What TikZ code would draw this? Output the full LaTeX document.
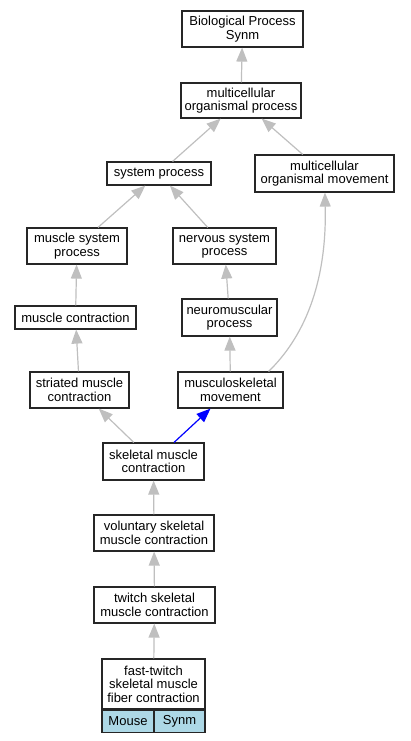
\documentclass[tikz,border=0pt]{standalone}
\usepackage{fontspec}
\setmainfont{Liberation Sans}
\usetikzlibrary{arrows.meta}
\definecolor{edgegray}{HTML}{BFBFBF}
\definecolor{cellblue}{HTML}{ADD8E6}

\begin{document}
\begin{tikzpicture}[x=1pt,y=-1pt,
    term/.style={draw=black!85, line width=1.2pt, fill=white, align=center,
      inner sep=0pt, font=\fontsize{13}{13.5}\selectfont},
    cell/.style={term, fill=cellblue},
    isa/.style={draw=edgegray, line width=1.2pt, -{Triangle[length=14pt,width=11pt]}},
    partof/.style={isa, draw=blue}]
    \useasboundingbox (0,0) rectangle (411,741);
    \node[term, minimum width=121, minimum height=36] (bps) at (242.5,29) {Biological Process\\Synm};
    \node[term, minimum width=120, minimum height=35] (mop) at (241,100.5) {multicellular\\organismal process};
    \node[term, minimum width=104, minimum height=23] (sysp) at (159,173.5) {system process};
    \node[term, minimum width=139, minimum height=37] (mom) at (324.5,173.5) {multicellular\\organismal movement};
    \node[term, minimum width=100, minimum height=36] (msp) at (77,246) {muscle system\\process};
    \node[term, minimum width=103, minimum height=36] (nsp) at (224.5,246) {nervous system\\process};
    \node[term, minimum width=121, minimum height=23] (mc) at (75.5,317.5) {muscle contraction};
    \node[term, minimum width=95, minimum height=37] (nmp) at (229.5,317.5) {neuromuscular\\process};
    \node[term, minimum width=99, minimum height=36] (stmc) at (79.5,390) {striated muscle\\contraction};
    \node[term, minimum width=105, minimum height=36] (msm) at (230.5,390) {musculoskeletal\\movement};
    \node[term, minimum width=101, minimum height=37] (skmc) at (153.5,461.5) {skeletal muscle\\contraction};
    \node[term, minimum width=120, minimum height=36] (vsmc) at (154,533) {voluntary skeletal\\muscle contraction};
    \node[term, minimum width=121, minimum height=36] (tsmc) at (154.5,605) {twitch skeletal\\muscle contraction};
    \node[term, minimum width=103, minimum height=50] (ftsm) at (153.5,684) {fast-twitch\\skeletal muscle\\fiber contraction};
    \node[cell, anchor=north west, minimum width=52, minimum height=22] (mouse) at (ftsm.south west) {Mouse};
    \node[cell, anchor=north east, minimum width=51, minimum height=22] (synm) at (ftsm.south east) {Synm};
    % is_a edges, child to parent
    \foreach \a/\b in {mop/bps, sysp/mop, mom/mop, msp/sysp, nsp/sysp, mc/msp,
        nmp/nsp, stmc/mc, msm/nmp, skmc/stmc, vsmc/skmc, tsmc/vsmc, ftsm/tsmc}
        \draw[isa] (\a) -- (\b);
    \draw[partof] (skmc) -- (msm);
    \draw[isa] (msm.26) .. controls (303,338) and (327,285) .. (mom);
\end{tikzpicture}
\end{document}
